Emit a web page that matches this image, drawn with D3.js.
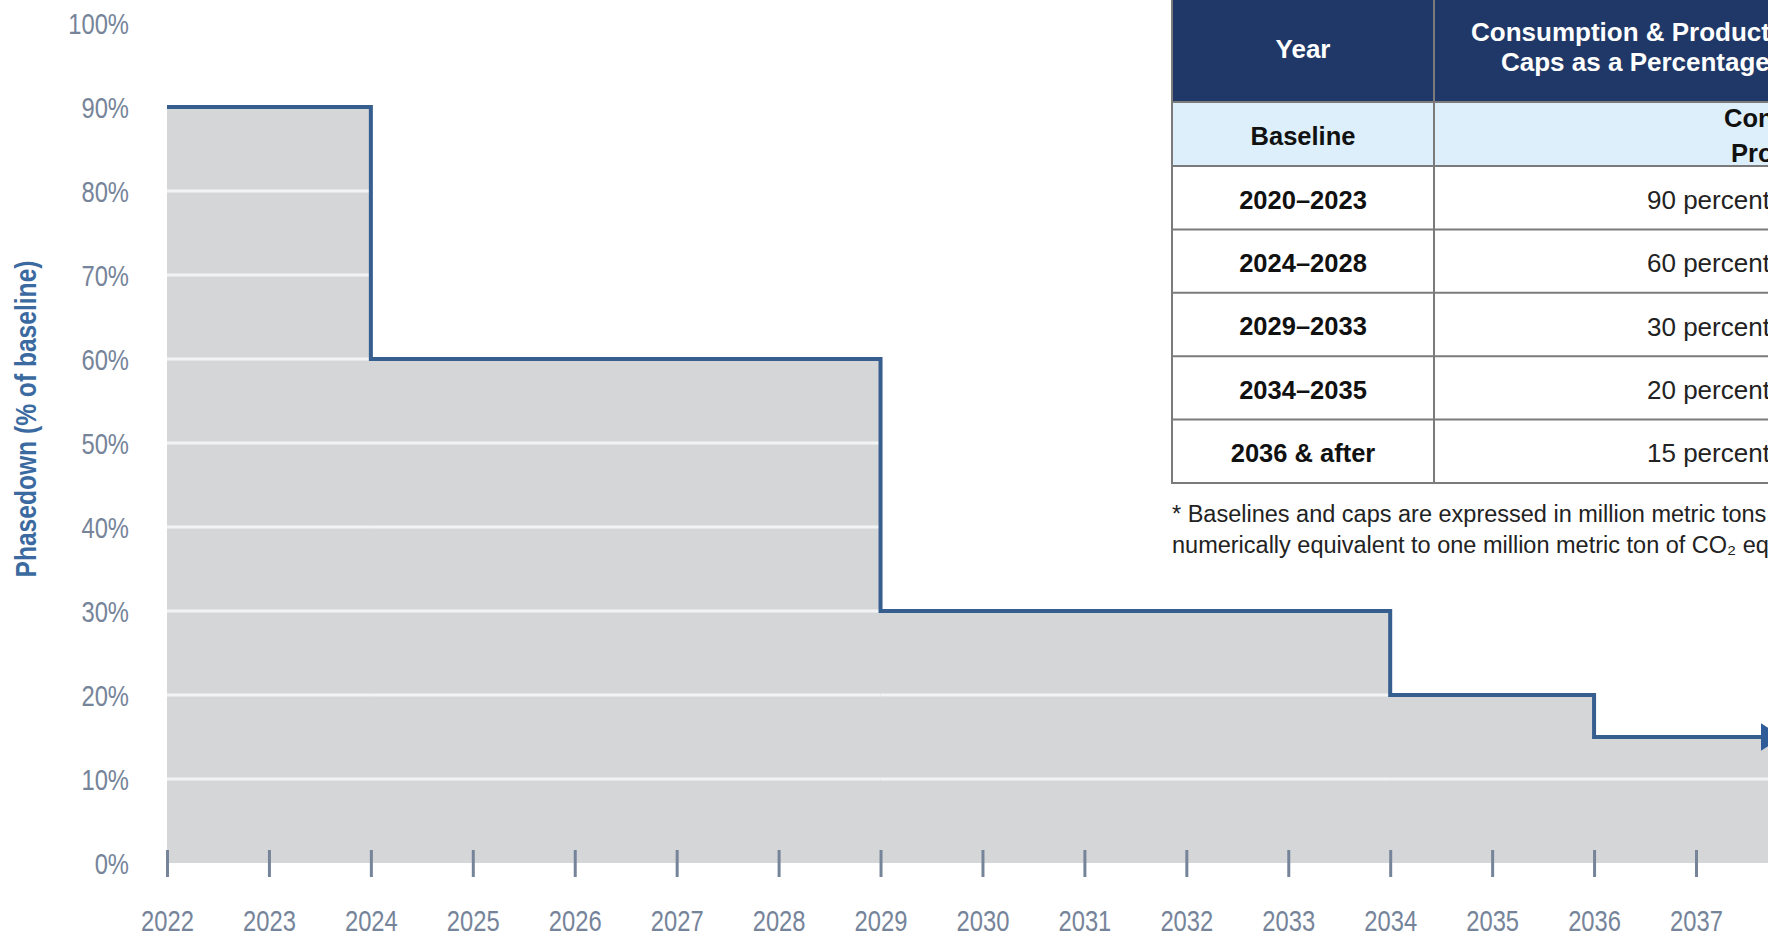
<!DOCTYPE html>
<html>
<head>
<meta charset="utf-8">
<script src="https://cdn.jsdelivr.net/npm/d3@7"></script>
<style>
  html, body { margin: 0; padding: 0; background: #ffffff; overflow: hidden; }
  svg { display: block; }
</style>
</head>
<body>
<svg id="chart" width="1768" height="938"></svg>
<script>
// ---------- data ----------
const tickYears = [2022, 2023, 2024, 2025, 2026, 2027, 2028, 2029, 2030, 2031, 2032, 2033, 2034, 2035, 2036, 2037];
const yTicks = [0, 10, 20, 30, 40, 50, 60, 70, 80, 90, 100];
const stepYears = [2022, 2024, 2029, 2034, 2036];
const capValues = [90, 60, 30, 20, 15];
const arrowEndYear = 2037.85;
const yAxisTitle = "Phasedown (% of baseline)";

const tableYearCol = ["Baseline", "2020–2023", "2024–2028", "2029–2033", "2034–2035", "2036 & after"];
const tableCapCol = [["Consumption", "Production"], ["90 percent"], ["60 percent"], ["30 percent"], ["20 percent"], ["15 percent"]];
const tableHeader = ["Year", ["Consumption & Production", "Caps as a Percentage of"]];
const footnoteLines = [
  "* Baselines and caps are expressed in million metric tons of exchange value equivalent (MMTEVe), which is",
  "numerically equivalent to one million metric ton of CO\u2082 equivalent (MMTCO\u2082e)."
];

// ---------- chart ----------
const svg = d3.select("#chart");
const x = d3.scaleLinear().domain([2022, 2037]).range([167, 1696]);
const y = d3.scaleLinear().domain([0, 100]).range([863, 23]);

const pts = stepYears.map((yr, i) => [yr, capValues[i]]);
pts.push([arrowEndYear, capValues[capValues.length - 1]]);

const axisColor = "#76849a";
const sans = "'Liberation Sans', Arial, Helvetica, sans-serif";
const squeeze = 0.82;

// area fill
svg.append("path")
  .datum(pts)
  .attr("d", d3.area().x(d => x(d[0])).y0(y(0)).y1(d => y(d[1])).curve(d3.curveStepAfter))
  .attr("fill", "#d5d6d8");

// white gridlines inside the fill
const grid = svg.append("g");
yTicks.filter(v => v > 0 && v < 90).forEach(v => {
  for (let i = 0; i < pts.length - 1; i++) {
    if (pts[i][1] > v) {
      grid.append("line")
        .attr("x1", x(pts[i][0])).attr("x2", x(pts[i + 1][0]))
        .attr("y1", y(v)).attr("y2", y(v))
        .attr("stroke", "#f3f3f3").attr("stroke-width", 3);
    }
  }
});

// x ticks
const xAxis = d3.axisBottom(x).tickValues(tickYears).tickFormat(d3.format("d")).tickSize(0).tickPadding(0);
const gx = svg.append("g").attr("transform", `translate(0,${y(0)})`).call(xAxis);
gx.select(".domain").remove();
gx.selectAll(".tick text").remove();
gx.selectAll(".tick").append("line")
  .attr("y1", -13).attr("y2", 14)
  .attr("stroke", axisColor).attr("stroke-width", 3);
gx.selectAll(".tick").append("text")
  .attr("transform", `translate(0,68) scale(${squeeze},1)`)
  .attr("fill", axisColor)
  .attr("text-anchor", "middle")
  .style("font-family", sans)
  .style("font-size", "29px")
  .text(d => d);

// y axis labels
const yAxis = d3.axisLeft(y).tickValues(yTicks).tickFormat(d => d + "%").tickSize(0).tickPadding(0);
const gy = svg.append("g").attr("transform", "translate(129,0)").call(yAxis);
gy.select(".domain").remove();
gy.selectAll(".tick text")
  .attr("x", 0)
  .attr("transform", `scale(${squeeze},1)`)
  .attr("fill", axisColor)
  .attr("dy", "0.36em")
  .style("font-family", sans)
  .style("font-size", "29px");

// y axis title
svg.append("text")
  .attr("transform", `translate(26,${(y(0) + y(100)) / 2 - 24}) rotate(-90) scale(${squeeze},1)`)
  .attr("text-anchor", "middle")
  .attr("dominant-baseline", "central")
  .attr("fill", "#3b6aa0")
  .style("font-family", sans)
  .style("font-weight", "bold")
  .style("font-size", "30px")
  .text(yAxisTitle);

// arrow marker
const defs = svg.append("defs");
defs.append("marker")
  .attr("id", "arrow")
  .attr("markerUnits", "userSpaceOnUse")
  .attr("viewBox", "0 0 22 28")
  .attr("refX", 22).attr("refY", 14)
  .attr("markerWidth", 22).attr("markerHeight", 28)
  .attr("orient", "auto")
  .append("path")
  .attr("d", "M0,0 L22,14 L0,28 Z")
  .attr("fill", "#2f5c98");

// step line
svg.append("path")
  .datum(pts)
  .attr("d", d3.line().x(d => x(d[0])).y(d => y(d[1])).curve(d3.curveStepAfter))
  .attr("fill", "none")
  .attr("stroke", "#365e8f")
  .attr("stroke-width", 4)
  .attr("stroke-linejoin", "miter")
  .attr("marker-end", "url(#arrow)");

// ---------- table ----------
const tbl = svg.append("g");
const tLeft = 1172, tDiv = 1434, tRight = 1900;
const headerTop = -4, headerBottom = 102, baseBottom = 166, rowH = 63.4;
const rowTops = [headerBottom, baseBottom];
for (let i = 1; i < tableYearCol.length; i++) rowTops.push(baseBottom + i * rowH);

tbl.append("rect").attr("x", tLeft).attr("y", headerTop).attr("width", tRight - tLeft).attr("height", headerBottom - headerTop)
  .attr("fill", "#203867");
tbl.append("rect").attr("x", tLeft).attr("y", rowTops[0]).attr("width", tRight - tLeft).attr("height", rowTops[1] - rowTops[0])
  .attr("fill", "#ddeffa");

const borderC = "#7b7b7b";
rowTops.forEach(yy => {
  tbl.append("line").attr("x1", tLeft).attr("x2", tRight).attr("y1", yy).attr("y2", yy)
    .attr("stroke", borderC).attr("stroke-width", 2);
});
[tLeft, tDiv].forEach(xx => {
  tbl.append("line").attr("x1", xx).attr("x2", xx).attr("y1", headerTop).attr("y2", rowTops[rowTops.length - 1] + 1)
    .attr("stroke", borderC).attr("stroke-width", 2);
});

const col1C = (tLeft + tDiv) / 2;
const fs = 26;
tbl.append("text").attr("x", col1C).attr("y", 49).attr("dy", "0.35em")
  .attr("text-anchor", "middle").attr("fill", "#ffffff")
  .style("font-family", sans).style("font-weight", "bold").style("font-size", fs + "px")
  .text(tableHeader[0]);
const headStarts = [1471, 1501], headYs = [32, 62];
tableHeader[1].forEach((t, i) => {
  tbl.append("text").attr("x", headStarts[i]).attr("y", headYs[i]).attr("dy", "0.35em")
    .attr("text-anchor", "start").attr("fill", "#ffffff")
    .style("font-family", sans).style("font-weight", "bold").style("font-size", fs + "px")
    .text(t);
});

tableYearCol.forEach((t, i) => {
  const cy = (rowTops[i] + rowTops[i + 1]) / 2 + 2;
  tbl.append("text").attr("x", col1C).attr("y", cy).attr("dy", "0.35em")
    .attr("text-anchor", "middle").attr("fill", "#111111")
    .style("font-family", sans).style("font-weight", "bold").style("font-size", "25.5px")
    .text(t);
  const caps = tableCapCol[i];
  if (caps.length === 2) {
    const starts = [1724, 1731], ys = [118, 153];
    caps.forEach((c, j) => {
      tbl.append("text").attr("x", starts[j]).attr("y", ys[j]).attr("dy", "0.35em")
        .attr("text-anchor", "start").attr("fill", "#111111")
        .style("font-family", sans).style("font-weight", "bold").style("font-size", "25.5px")
        .text(c);
    });
  } else {
    tbl.append("text").attr("x", 1647).attr("y", cy).attr("dy", "0.35em")
      .attr("text-anchor", "start").attr("fill", "#222222")
      .style("font-family", sans).style("font-size", "26px")
      .text(caps[0]);
  }
});

footnoteLines.forEach((t, i) => {
  tbl.append("text").attr("x", tLeft).attr("y", 514 + i * 31).attr("dy", "0.35em")
    .attr("fill", "#222222")
    .style("font-family", sans).style("font-size", "23.5px")
    .text(t);
});
</script>
</body>
</html>
